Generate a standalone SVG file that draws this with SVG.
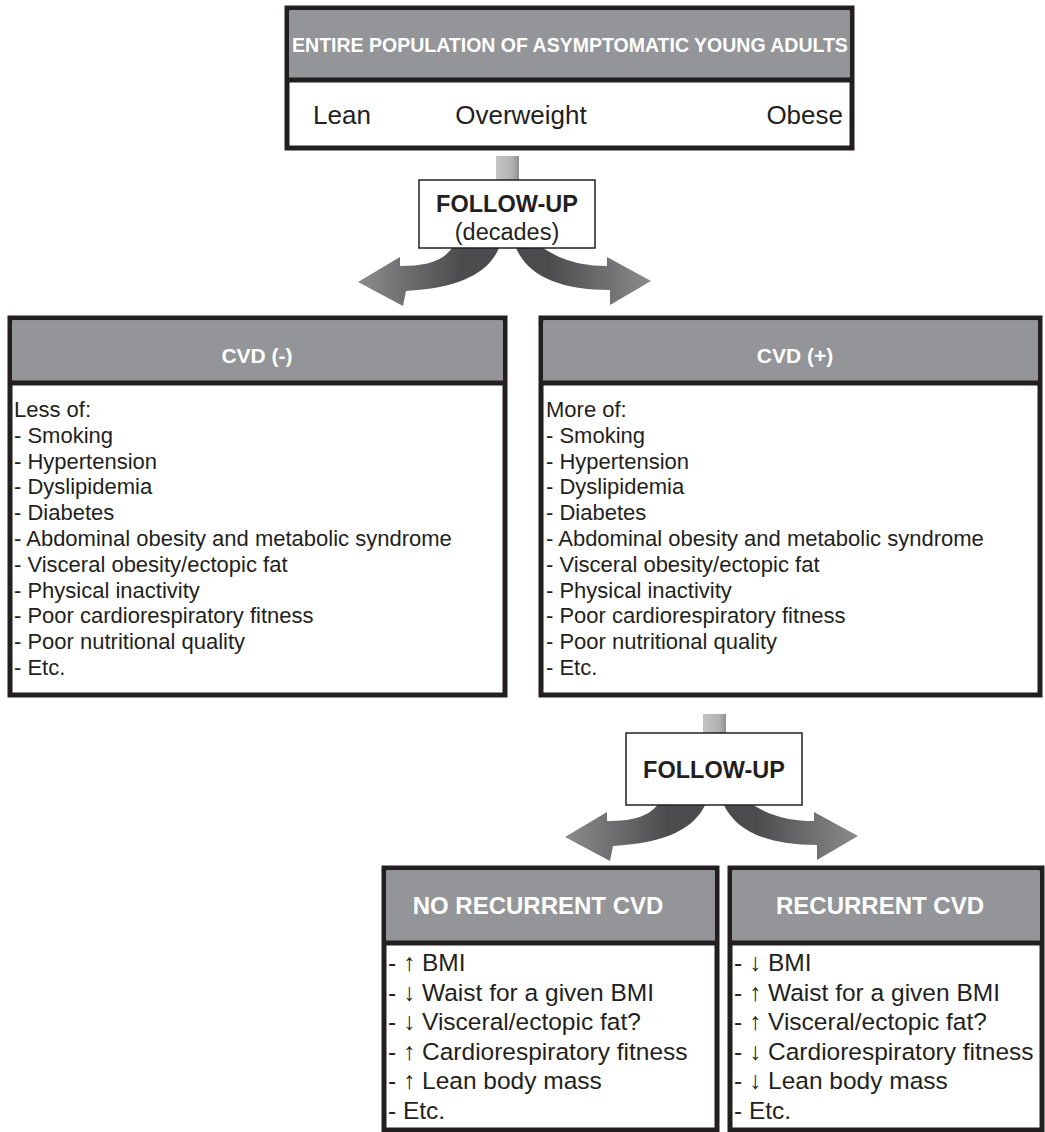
<svg xmlns="http://www.w3.org/2000/svg" width="1045" height="1132" viewBox="0 0 1045 1132">
<style>
.box{fill:#fff;stroke:#231f20;stroke-width:5}
.hdr{fill:#939598}
.sep{stroke:#231f20;stroke-width:5}
.ht{font-family:"Liberation Sans",Arial,sans-serif;font-weight:bold;fill:#fff;text-anchor:middle}
.t{font-family:"Liberation Sans",Arial,sans-serif;fill:#231f20}
.fb{fill:#fff;stroke:#231f20;stroke-width:1.5}
.fu{font-family:"Liberation Sans",Arial,sans-serif;fill:#231f20;text-anchor:middle}
</style>
<defs>
<linearGradient id="stub" x1="0" y1="0" x2="1" y2="0">
<stop offset="0" stop-color="#c4c4c6"/><stop offset="0.7" stop-color="#b2b2b4"/><stop offset="1" stop-color="#8e8e90"/>
</linearGradient>
<linearGradient id="ga" gradientUnits="userSpaceOnUse" x1="358" y1="0" x2="652" y2="0">
<stop offset="0" stop-color="#8c8c8e"/><stop offset="0.35" stop-color="#4c4c4e"/><stop offset="0.65" stop-color="#4c4c4e"/><stop offset="1" stop-color="#8c8c8e"/>
</linearGradient>
<g id="arrows">
<path d="M452 248 C442 262 425 266 400 266 L400 257 L358 282 L403 306 L406 291 C458 288 488 274 499 248 Z" fill="url(#ga)"/>
<path d="M516 248 C528 276 560 290 610 290 L610 305 L651 281 L607 257 L607 266 C585 266 564 262 543 248 Z" fill="url(#ga)"/>
</g>
</defs>

<g id="connectors">
<rect x="496" y="156" width="23" height="26" fill="url(#stub)"/>
<use href="#arrows"/>
<rect x="703" y="714" width="23" height="21" fill="url(#stub)"/>
<use href="#arrows" transform="translate(207,555)"/>
</g>

<g id="population">
<rect class="box" x="287" y="8" width="565" height="140"/>
<rect class="hdr" x="289.5" y="10.5" width="560" height="69.5"/>
<line class="sep" x1="287" y1="80" x2="852" y2="80"/>
<text class="ht" x="570" y="52" font-size="19.5">ENTIRE POPULATION OF ASYMPTOMATIC YOUNG ADULTS</text>
<text class="t" x="313" y="124" font-size="26">Lean</text>
<text class="t" x="521" y="124" font-size="26" text-anchor="middle">Overweight</text>
<text class="t" x="843" y="124" font-size="26" text-anchor="end">Obese</text>
</g>

<g id="followup1">
<rect class="fb" x="419" y="180" width="176" height="68"/>
<text class="fu" x="507" y="212" font-size="23.5" font-weight="bold">FOLLOW-UP</text>
<text class="fu" x="507" y="240" font-size="23.5">(decades)</text>
</g>

<g id="cvd-neg">
<rect class="box" x="10" y="318" width="495" height="377"/>
<rect class="hdr" x="12.5" y="320.5" width="490" height="62.5"/>
<line class="sep" x1="10" y1="383" x2="505" y2="383"/>
<text class="ht" x="257" y="363" font-size="21">CVD (-)</text>
<text class="t" x="14" y="417" font-size="22">
<tspan x="14" dy="0">Less of:</tspan>
<tspan x="14" dy="25.8">- Smoking</tspan>
<tspan x="14" dy="25.8">- Hypertension</tspan>
<tspan x="14" dy="25.8">- Dyslipidemia</tspan>
<tspan x="14" dy="25.8">- Diabetes</tspan>
<tspan x="14" dy="25.8">- Abdominal obesity and metabolic syndrome</tspan>
<tspan x="14" dy="25.8">- Visceral obesity/ectopic fat</tspan>
<tspan x="14" dy="25.8">- Physical inactivity</tspan>
<tspan x="14" dy="25.8">- Poor cardiorespiratory fitness</tspan>
<tspan x="14" dy="25.8">- Poor nutritional quality</tspan>
<tspan x="14" dy="25.8">- Etc.</tspan>
</text>
</g>

<g id="cvd-pos">
<rect class="box" x="541" y="318" width="499" height="377"/>
<rect class="hdr" x="543.5" y="320.5" width="494" height="62.5"/>
<line class="sep" x1="541" y1="383" x2="1040" y2="383"/>
<text class="ht" x="795" y="363" font-size="21">CVD (+)</text>
<text class="t" x="546" y="417" font-size="22">
<tspan x="546" dy="0">More of:</tspan>
<tspan x="546" dy="25.8">- Smoking</tspan>
<tspan x="546" dy="25.8">- Hypertension</tspan>
<tspan x="546" dy="25.8">- Dyslipidemia</tspan>
<tspan x="546" dy="25.8">- Diabetes</tspan>
<tspan x="546" dy="25.8">- Abdominal obesity and metabolic syndrome</tspan>
<tspan x="546" dy="25.8">- Visceral obesity/ectopic fat</tspan>
<tspan x="546" dy="25.8">- Physical inactivity</tspan>
<tspan x="546" dy="25.8">- Poor cardiorespiratory fitness</tspan>
<tspan x="546" dy="25.8">- Poor nutritional quality</tspan>
<tspan x="546" dy="25.8">- Etc.</tspan>
</text>
</g>

<g id="followup2">
<rect class="fb" x="626" y="733" width="176" height="72"/>
<text class="fu" x="714" y="778" font-size="23.5" font-weight="bold">FOLLOW-UP</text>
</g>

<g id="no-recurrent">
<rect class="box" x="384" y="868" width="333" height="262"/>
<rect class="hdr" x="386.5" y="870.5" width="328" height="72.5"/>
<line class="sep" x1="384" y1="943" x2="717" y2="943"/>
<text class="ht" x="538" y="914" font-size="24">NO RECURRENT CVD</text>
<text class="t" x="388" y="971" font-size="24.5">
<tspan x="388" dy="0">- ↑ BMI</tspan>
<tspan x="388" dy="29.5">- ↓ Waist for a given BMI</tspan>
<tspan x="388" dy="29.5">- ↓ Visceral/ectopic fat?</tspan>
<tspan x="388" dy="29.5">- ↑ Cardiorespiratory fitness</tspan>
<tspan x="388" dy="29.5">- ↑ Lean body mass</tspan>
<tspan x="388" dy="29.5">- Etc.</tspan>
</text>
</g>

<g id="recurrent">
<rect class="box" x="730" y="868" width="312" height="262"/>
<rect class="hdr" x="732.5" y="870.5" width="307" height="72.5"/>
<line class="sep" x1="730" y1="943" x2="1042" y2="943"/>
<text class="ht" x="880" y="914" font-size="24">RECURRENT CVD</text>
<text class="t" x="734" y="971" font-size="24.5">
<tspan x="734" dy="0">- ↓ BMI</tspan>
<tspan x="734" dy="29.5">- ↑ Waist for a given BMI</tspan>
<tspan x="734" dy="29.5">- ↑ Visceral/ectopic fat?</tspan>
<tspan x="734" dy="29.5">- ↓ Cardiorespiratory fitness</tspan>
<tspan x="734" dy="29.5">- ↓ Lean body mass</tspan>
<tspan x="734" dy="29.5">- Etc.</tspan>
</text>
</g>
</svg>
